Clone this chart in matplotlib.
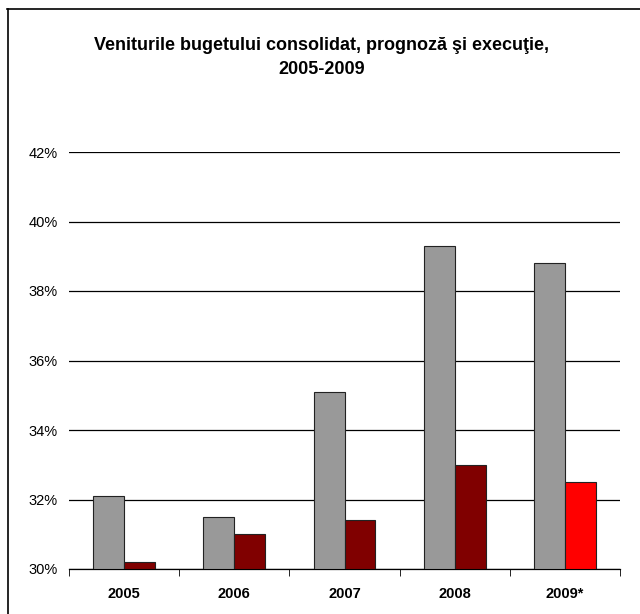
import numpy as np
import matplotlib
matplotlib.use("Agg")
import matplotlib.pyplot as plt
from matplotlib.lines import Line2D
from matplotlib.ticker import FuncFormatter

plt.rcParams['font.family'] = ['Liberation Sans', 'DejaVu Sans']

years = ['2005', '2006', '2007', '2008', '2009*']
prognoza = [32.1, 31.5, 35.1, 39.3, 38.8]
executie = [30.2, 31.0, 31.4, 33.0, 32.5]
exec_colors = ['#800000', '#800000', '#800000', '#800000', '#ff0000']

fig = plt.figure(figsize=(6.4, 6.14), dpi=100)
ax = fig.add_axes([69/640, 1-569/614, (620-69)/640, (569-152)/614])

x = np.arange(len(years))
w = 0.28
ax.bar(x - w/2, [p - 30 for p in prognoza], w, bottom=30, color='#999999',
       edgecolor='#222222', linewidth=0.8, zorder=3)
ax.bar(x + w/2, [e - 30 for e in executie], w, bottom=30, color=exec_colors,
       edgecolor='#222222', linewidth=0.8, zorder=3)

ax.set_xlim(-0.5, len(years) - 0.5)
ax.set_ylim(30, 42)
ax.set_yticks(np.arange(30, 43, 2))
ax.yaxis.set_major_formatter(FuncFormatter(lambda v, p: '%d%%' % v))
ax.grid(axis='y', color='black', linewidth=0.9, zorder=0)
ax.tick_params(axis='y', length=0, pad=8, labelsize=10.5)

ax.set_xticks(x)
ax.set_xticklabels(years, fontweight='bold', fontsize=10.5)
ax.set_xticks(np.arange(-0.5, len(years), 1), minor=True)
ax.tick_params(axis='x', which='major', length=0, pad=13)
ax.tick_params(axis='x', which='minor', length=5, direction='out')

for s in ['top', 'right', 'left']:
    ax.spines[s].set_visible(False)
ax.spines['bottom'].set_linewidth(0.9)

fig.text(322/640, 1-45/614, 'Veniturile bugetului consolidat, prognoză şi execuţie,',
         ha='center', va='center', fontsize=13, fontweight='bold')
fig.text(322/640, 1-70/614, '2005-2009', ha='center', va='center',
         fontsize=13, fontweight='bold')

# chenar (doar stanga si sus)
fig.add_artist(Line2D([7.5/640, 7.5/640], [0, 1-9/614], transform=fig.transFigure,
                      color='black', linewidth=1.2))
fig.add_artist(Line2D([7/640, 1], [1-9/614, 1-9/614], transform=fig.transFigure,
                      color='black', linewidth=1.2))

fig.savefig('out.png', dpi=100)
